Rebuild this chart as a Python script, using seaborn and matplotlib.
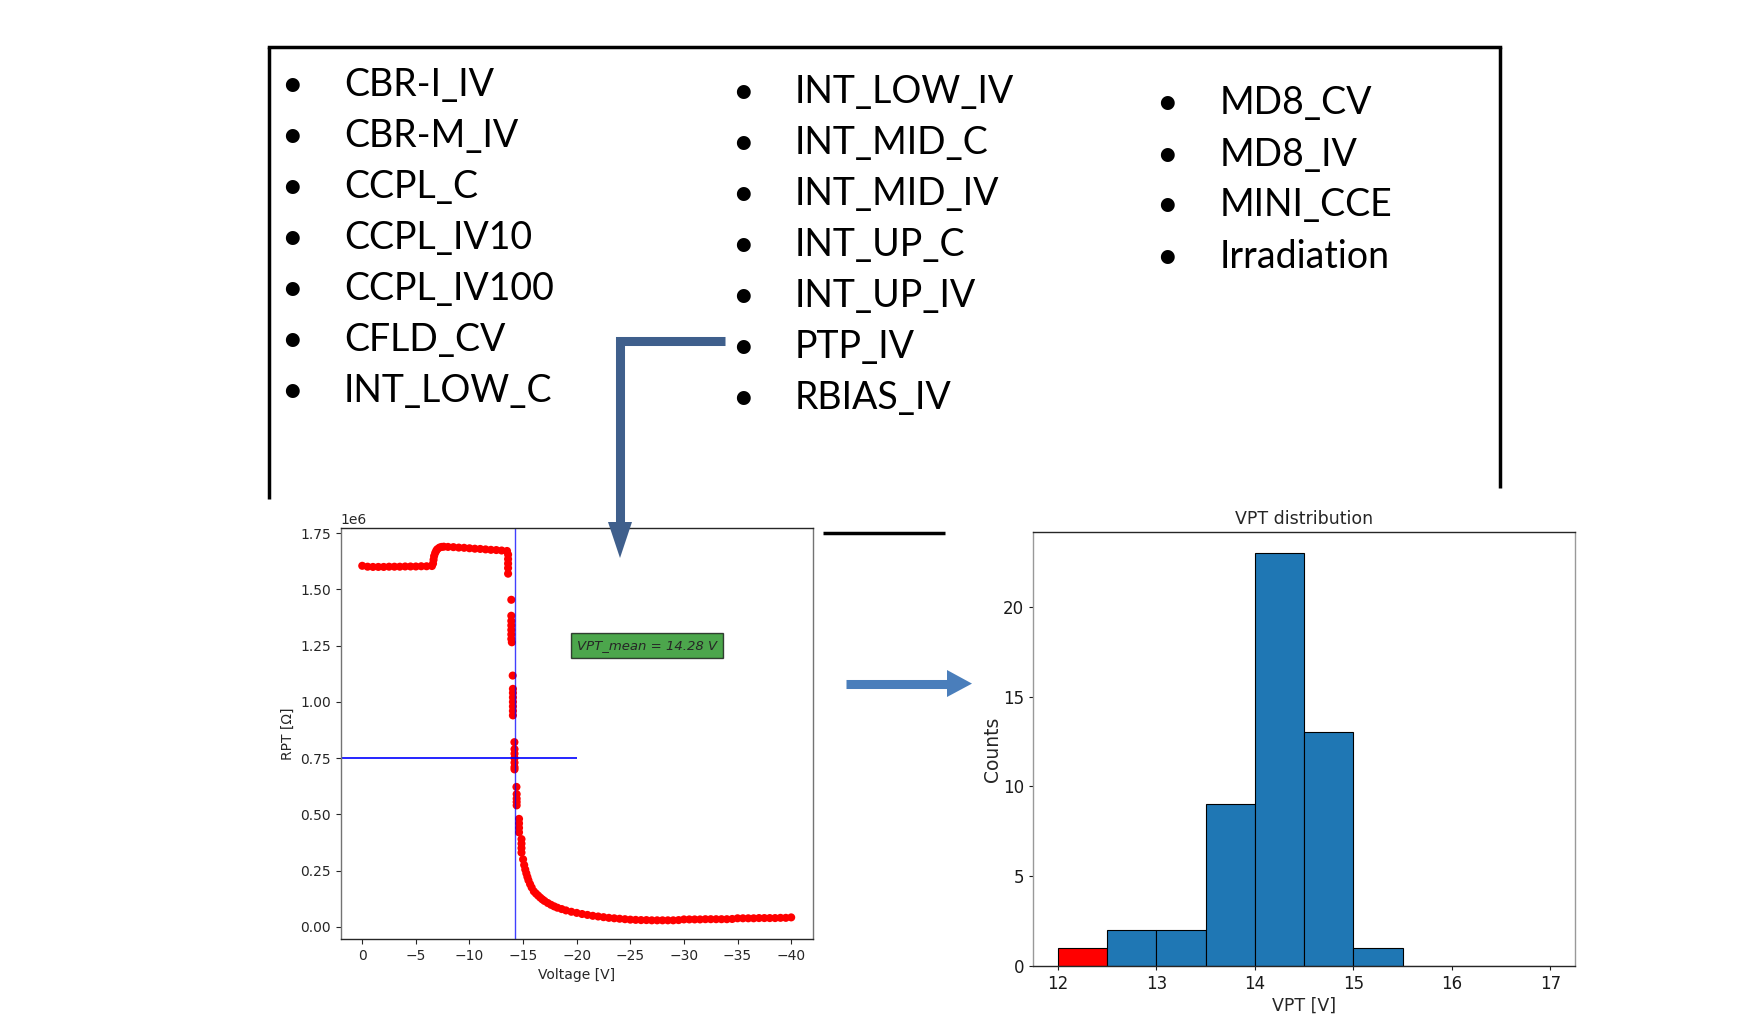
import numpy as np
import pandas as pd
import matplotlib
matplotlib.use("Agg")
import matplotlib.pyplot as plt
from matplotlib.patches import Polygon
import seaborn as sns

# RPT scan of one sensor (voltage in V, resistance in MOhm)
V_PLATEAU = [0.0, -0.5, -1.0, -1.5, -2.0, -2.5, -3.0, -3.5, -4.0, -4.5, -5.0, -5.5, -6.0, -6.5]
R_PLATEAU = [1.605, 1.601, 1.600, 1.600, 1.600, 1.601, 1.601, 1.601, 1.602, 1.602, 1.602, 1.603, 1.603, 1.604]

V_BUMP = [-6.6, -6.65, -6.7, -6.8, -6.9, -7.0, -7.2, -7.4, -7.6, -8.0, -8.5, -9.0, -9.5, -10.0,
          -10.5, -11.0, -11.5, -12.0, -12.5, -13.0, -13.5, -13.6, -13.6, -13.6, -13.6, -13.6]
R_BUMP = [1.615, 1.632, 1.648, 1.662, 1.672, 1.679, 1.686, 1.689, 1.690, 1.689, 1.688, 1.686, 1.685, 1.683,
          1.681, 1.680, 1.678, 1.676, 1.675, 1.673, 1.671, 1.655, 1.635, 1.615, 1.595, 1.570]

V_DROP = [-13.9, -13.9, -13.9, -13.9, -13.9, -13.9, -13.9, -13.95, -14.03,
          -14.05, -14.05, -14.05, -14.05, -14.05, -14.05, -14.05, -14.19,
          -14.2, -14.2, -14.2, -14.2, -14.2, -14.2, -14.38, -14.4, -14.4, -14.4, -14.4,
          -14.62, -14.62, -14.62, -14.62, -14.85, -14.85, -14.85, -14.85]
R_DROP = [1.454, 1.383, 1.36, 1.34, 1.32, 1.30, 1.28, 1.265, 1.117,
          1.058, 1.04, 1.02, 1.00, 0.98, 0.96, 0.94, 0.821,
          0.79, 0.77, 0.75, 0.73, 0.71, 0.70, 0.622, 0.59, 0.57, 0.555, 0.54,
          0.48, 0.46, 0.44, 0.42, 0.39, 0.37, 0.35, 0.33]

V_TAIL = [-15.0, -15.1, -15.2, -15.3, -15.4, -15.5, -15.65, -15.8, -16.0, -16.2, -16.4, -16.6, -16.8,
          -17.0, -17.3, -17.6, -17.9, -18.2, -18.6, -19.0, -19.5, -20.0, -20.5, -21.0, -21.5, -22.0,
          -22.5, -23.0, -23.5, -24.0, -24.5, -25.0, -25.5, -26.0, -26.5, -27.0, -27.5, -28.0, -28.5,
          -29.0, -29.5, -30.0, -30.5, -31.0, -31.5, -32.0, -32.5, -33.0, -33.5, -34.0, -34.5, -35.0,
          -35.5, -36.0, -36.5, -37.0, -37.5, -38.0, -38.5, -39.0, -39.5, -40.0]
R_TAIL = [0.300, 0.275, 0.255, 0.238, 0.222, 0.207, 0.190, 0.175, 0.158, 0.148, 0.139, 0.130, 0.122,
          0.115, 0.106, 0.098, 0.091, 0.085, 0.079, 0.073, 0.067, 0.062, 0.057, 0.053, 0.049, 0.046,
          0.043, 0.040, 0.038, 0.036, 0.034, 0.032, 0.031, 0.030, 0.030, 0.029, 0.029, 0.029, 0.029,
          0.029, 0.030, 0.033, 0.033, 0.033, 0.033, 0.034, 0.034, 0.034, 0.034, 0.034, 0.035, 0.038,
          0.038, 0.038, 0.038, 0.039, 0.039, 0.039, 0.039, 0.040, 0.040, 0.042]

VPT_MEAN = 14.28
R_THRESHOLD = 0.75e6

# VPT histogram over all sensors
VPT_BIN_EDGES = [12.0, 12.5, 13.0, 13.5, 14.0, 14.5, 15.0, 15.5, 16.0, 16.5, 17.0]
VPT_COUNTS = [1, 2, 2, 9, 23, 13, 1, 0, 0, 0]

# test structures listed in the box
COL1 = ["CBR-I_IV", "CBR-M_IV", "CCPL_C", "CCPL_IV10", "CCPL_IV100", "CFLD_CV", "INT_LOW_C"]
COL2 = ["INT_LOW_IV", "INT_MID_C", "INT_MID_IV", "INT_UP_C", "INT_UP_IV", "PTP_IV", "RBIAS_IV"]
COL3 = ["MD8_CV", "MD8_IV", "MINI_CCE", "Irradiation"]

sns.set_style("ticks")
plt.rcParams["font.family"] = ["DejaVu Sans"]
plt.rcParams["axes.linewidth"] = 1.0

W, H = 1754, 1016
fig = plt.figure(figsize=(W / 100, H / 100), dpi=100)
fig.patch.set_facecolor("white")

# ---- left: RPT vs voltage
ax1 = fig.add_axes([0.1943, 0.0758, 0.269, 0.4045])
voltage = np.array(V_PLATEAU + V_BUMP + V_DROP + V_TAIL)
rpt = np.array(R_PLATEAU + R_BUMP + R_DROP + R_TAIL) * 1e6
sns.scatterplot(x=voltage, y=rpt, color="red", s=34, edgecolor="none", linewidth=0, ax=ax1)
ax1.axvline(-VPT_MEAN, color="blue", lw=1.0, alpha=0.75)
ax1.hlines(R_THRESHOLD, 2, -20, color="blue", lw=1.2)
ax1.set_xlim(2, -42)
ax1.set_ylim(-0.054e6, 1.773e6)
ax1.set_xticks(np.arange(0, -41, -5))
ax1.set_yticks(np.arange(0, 1.76e6, 0.25e6))
ax1.set_xlabel("Voltage [V]", fontsize=10)
ax1.set_ylabel("RPT [Ω]", fontsize=10)
ax1.tick_params(labelsize=10, colors="0.15")
ax1.yaxis.get_offset_text().set_fontsize(10)
ax1.text(-20, 1.25e6, f"VPT_mean = {VPT_MEAN:.2f} V", style="italic", fontsize=9.5,
         va="center", ha="left",
         bbox=dict(boxstyle="square,pad=0.45", facecolor="green", alpha=0.7, edgecolor="black"))
for s in ("left", "right"):
    ax1.spines[s].set_color("0.45")

# ---- right: VPT distribution
ax2 = fig.add_axes([0.589, 0.0492, 0.309, 0.427])
edges = np.array(VPT_BIN_EDGES)
hist_df = pd.DataFrame({"vpt": (edges[:-1] + edges[1:]) / 2, "n": VPT_COUNTS})
sns.histplot(data=hist_df, x="vpt", weights="n", bins=VPT_BIN_EDGES, color="#1f77b4", alpha=1,
             edgecolor="black", linewidth=0.8, ax=ax2)
ax2.patches[0].set_facecolor("red")
ax2.set_xlim(11.75, 17.25)
ax2.set_ylim(0, max(VPT_COUNTS) * 1.05)
ax2.set_yticks([0, 5, 10, 15, 20])
ax2.set_title("VPT distribution", fontsize=12.5, pad=6)
ax2.set_xlabel("VPT [V]", fontsize=12.5, labelpad=3)
ax2.set_ylabel("Counts", fontsize=13.5, labelpad=1)
ax2.tick_params(labelsize=12, colors="0.1", length=3)
for s in ("left", "right"):
    ax2.spines[s].set_color("0.6")

# ---- overlay: box, list and arrows in pixel coords
ov = fig.add_axes([0, 0, 1, 1], zorder=10)
ov.set_xlim(0, W)
ov.set_ylim(H, 0)
ov.axis("off")
ov.patch.set_alpha(0)

lw_box = 2.5
ov.plot([269, 269], [47, 499], color="black", lw=lw_box, solid_capstyle="butt")
ov.plot([269, 1500], [47, 47], color="black", lw=lw_box, solid_capstyle="projecting")
ov.plot([1500, 1500], [47, 488], color="black", lw=lw_box, solid_capstyle="butt")
ov.plot([823, 945], [533, 533], color="black", lw=lw_box, solid_capstyle="butt")

list_font = dict(family=["Lato", "DejaVu Sans"], fontsize=27, color="black")
for items, bx, tx, y0, dy in [(COL1, 291.5, 344, 96, 51.0),
                              (COL2, 743, 795, 103.3, 51.0),
                              (COL3, 1167, 1220, 114.5, 51.0)]:
    for i, name in enumerate(items):
        y = y0 + i * dy
        ov.text(bx, y, "•", ha="center", va="baseline", **list_font)
        ov.text(tx, y, name, ha="left", va="baseline", **list_font)

# elbow arrow from PTP_IV down to the RPT plot
dark_blue = "#3F5F8C"
ov.plot([725, 620, 620], [341, 341, 523], color=dark_blue, lw=6.5,
        solid_joinstyle="miter", solid_capstyle="butt")
ov.add_patch(Polygon([[608, 522], [632, 522], [620, 558]], closed=True,
                     facecolor=dark_blue, edgecolor="none"))

# arrow from RPT plot to histogram
light_blue = "#4A7EBB"
ov.plot([846, 948], [683.6, 683.6], color=light_blue, lw=6.5, solid_capstyle="butt")
ov.add_patch(Polygon([[947, 670], [947, 697], [972, 683.6]], closed=True,
                     facecolor=light_blue, edgecolor="none"))

fig.savefig("out.png", dpi=100)
